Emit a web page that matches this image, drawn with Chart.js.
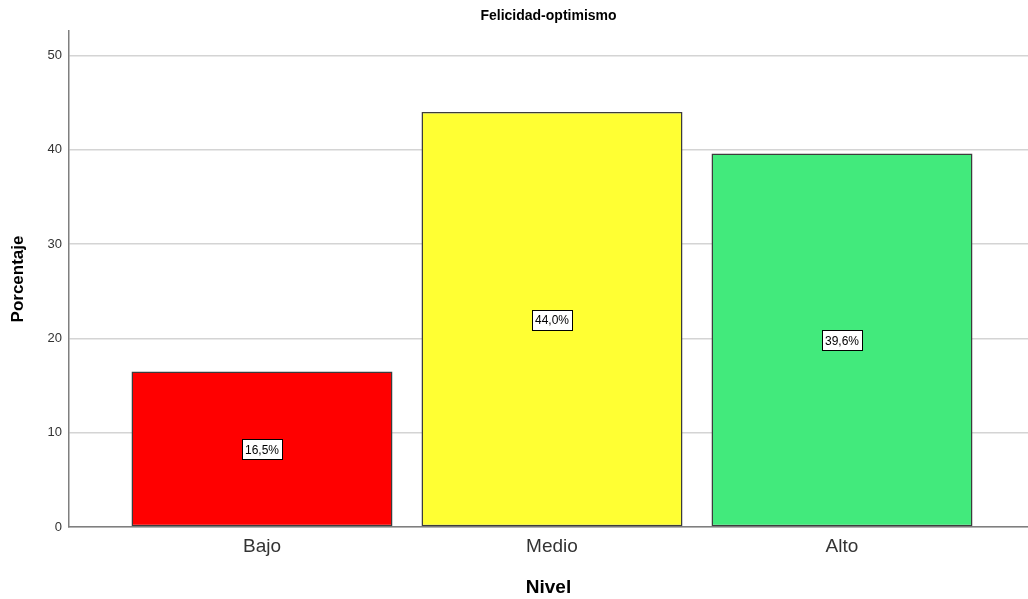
<!DOCTYPE html>
<html><head><meta charset="utf-8">
<script src="https://cdn.jsdelivr.net/npm/chart.js@4/dist/chart.umd.min.js"></script>
<style>html,body{margin:0;padding:0;background:#fff}#wrap{width:1028px;height:599px}</style>
</head><body><div id="wrap"><canvas id="c" width="1028" height="599"></canvas></div>
<script>
const categories = ["Bajo", "Medio", "Alto"];
const percentages = [16.5, 44.0, 39.6];
const barColors = ["#ff0000", "#ffff33", "#42ea7c"];
const yTicks = [0, 10, 20, 30, 40, 50];
const titleText = "Felicidad-optimismo";
const xTitle = "Nivel";
const yTitle = "Porcentaje";

const FONT = "'Liberation Sans', Arial, sans-serif";

const labelPlugin = {
  id: 'barLabels',
  afterDatasetsDraw(chart) {
    const ctx = chart.ctx;
    const meta = chart.getDatasetMeta(0);
    const yScale = chart.scales.y;
    ctx.save();
    ctx.font = "12px " + FONT;
    ctx.textAlign = 'center';
    ctx.textBaseline = 'middle';
    meta.data.forEach((bar, i) => {
      const v = percentages[i];
      const txt = v.toFixed(1).replace('.', ',') + '%';
      const cx = bar.x;
      const cy = yScale.getPixelForValue(v / 2);
      const w = ctx.measureText(txt).width + 6;
      const h = 20;
      ctx.fillStyle = '#fff';
      ctx.fillRect(Math.round(cx - w / 2) + 0.5, Math.round(cy - h / 2) + 0.5, Math.round(w), h);
      ctx.strokeStyle = '#000';
      ctx.lineWidth = 1;
      ctx.strokeRect(Math.round(cx - w / 2) + 0.5, Math.round(cy - h / 2) + 0.5, Math.round(w), h);
      ctx.fillStyle = '#000';
      ctx.fillText(txt, cx, cy + 1);
    });
    ctx.restore();
  }
};

new Chart(document.getElementById('c'), {
  type: 'bar',
  data: {
    datasets: [{
      data: categories.map((c, i) => ({ x: i, y: percentages[i] })),
      backgroundColor: barColors,
      borderColor: '#3c3c3c',
      borderWidth: 1.5,
      borderSkipped: false,
      categoryPercentage: 1,
      barPercentage: 0.9
    }]
  },
  options: {
    responsive: false,
    animation: false,
    layout: { padding: { left: 0, right: 0, top: 0, bottom: 0 } },
    plugins: { legend: { display: false }, tooltip: { enabled: false } },
    scales: {
      x: {
        type: 'linear',
        position: 'bottom',
        offset: false,
        min: -0.6655,
        max: 2.6414,
        afterBuildTicks: s => { s.ticks = categories.map((c, i) => ({ value: i })); },
        afterFit: s => { s.height = 72; },
        grid: { display: false, drawTicks: false, offset: false },
        border: { display: true, color: '#7f7f7f', width: 1.5 },
        ticks: {
          padding: 8,
          color: '#333',
          font: { family: FONT, size: 19 },
          autoSkip: false,
          maxRotation: 0,
          callback: v => categories[v]
        },
        title: {
          display: true, text: xTitle, color: '#000',
          font: { family: FONT, size: 19, weight: 'bold' },
          padding: { top: 4, bottom: 0 }
        }
      },
      top: {
        type: 'linear',
        position: 'top',
        min: 0, max: 1,
        afterFit: s => { s.height = 31; },
        grid: { display: false, drawTicks: false },
        border: { display: false },
        ticks: { display: false },
        title: {
          display: true, text: titleText, color: '#000',
          font: { family: FONT, size: 14, weight: 'bold' },
          padding: { top: 8, bottom: 0 }
        }
      },
      y: {
        type: 'linear',
        min: 0,
        max: 52.6,
        afterBuildTicks: s => { s.ticks = yTicks.map(v => ({ value: v })); },
        afterFit: s => { s.width = 69; },
        grid: { color: '#d4d4d4', lineWidth: 1.5, drawTicks: false },
        border: { display: true, color: '#7f7f7f', width: 1.5 },
        ticks: { padding: 7, color: '#333', font: { family: FONT, size: 13 } },
        title: {
          display: true, text: yTitle, color: '#000',
          font: { family: FONT, size: 17, weight: 'bold' },
          padding: { top: 8, bottom: 0 }
        }
      }
    }
  },
  plugins: [labelPlugin]
});
</script>
</body></html>
